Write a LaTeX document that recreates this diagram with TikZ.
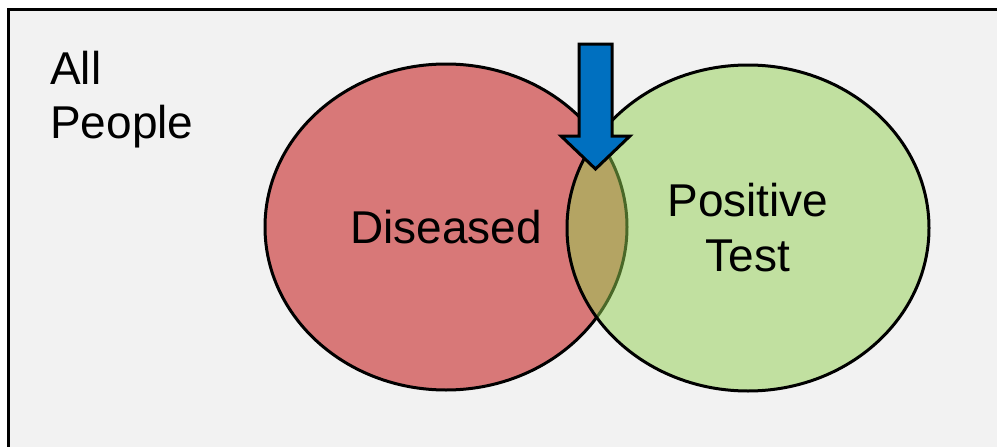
\documentclass[tikz,border=0pt]{standalone}
\usepackage{fontspec}
\setmainfont{Liberation Sans}
\usetikzlibrary{shapes.geometric}

\definecolor{bggray}{HTML}{F2F2F2}
\definecolor{diseasedred}{HTML}{C00000}
\definecolor{testgreen}{HTML}{92D050}
\definecolor{pointerblue}{HTML}{0070C0}

\tikzset{
    venn/.style={ellipse, draw=black, line width=3pt, fill opacity=0.5, text opacity=1,
        minimum width=362pt, minimum height=326pt, inner sep=0pt, align=center,
        font=\fontsize{46}{55}\selectfont},
    label text/.style={inner sep=0pt, align=left, font=\fontsize{46}{54}\selectfont}
}

\begin{document}
\begin{tikzpicture}[x=1pt,y=-1pt]
        \useasboundingbox (0,0) rectangle (997,447);
        \clip (0,0) rectangle (997,447);
        \draw[line width=3pt, fill=bggray] (8.5,9.5) rectangle (1010,460);

        \node[label text, anchor=north west] (allpeople) at (50,51) {All\\People};

        \node[venn, fill=diseasedred] (diseased) at (446,227) {Diseased};
        \node[venn, fill=testgreen] (positive) at (748,228) {Positive\\Test};

        \draw[line width=3pt, fill=pointerblue, line join=miter]
            (579,44)--(612,44)--(612,136)--(630,136)--(595.5,169)--(561,136)--(579,136)--cycle;
\end{tikzpicture}
\end{document}
